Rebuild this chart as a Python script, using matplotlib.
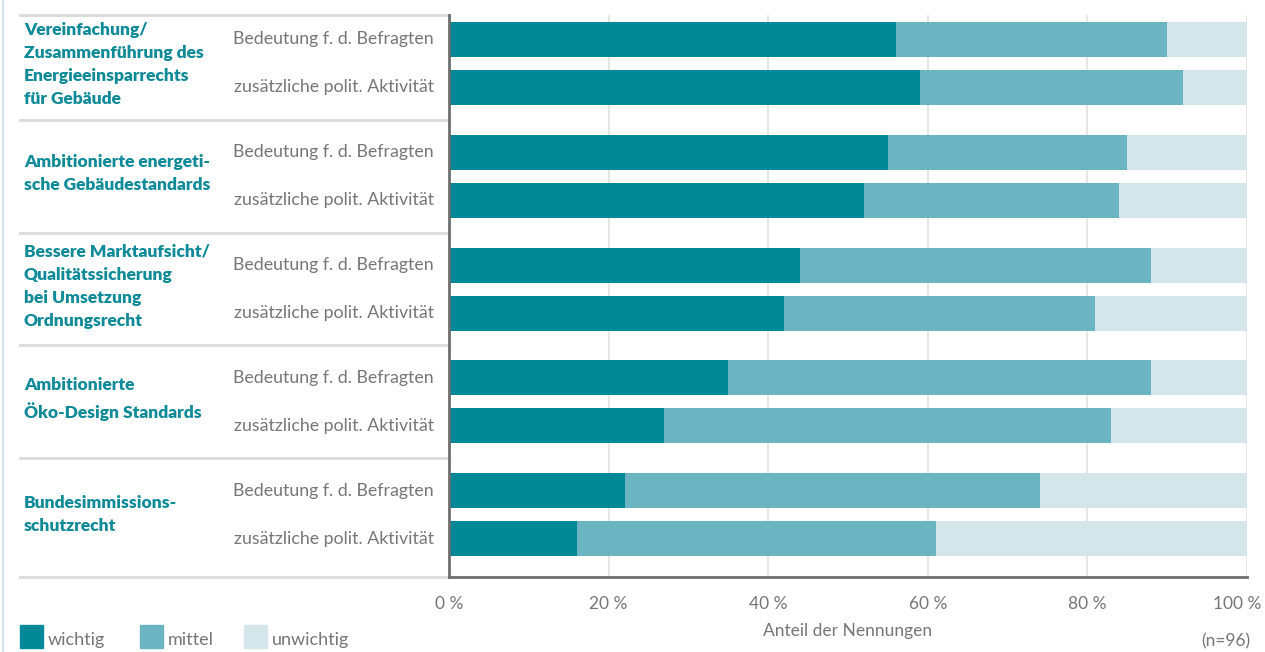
import matplotlib
matplotlib.use("Agg")
import matplotlib.pyplot as plt
import matplotlib.transforms as mtransforms
from matplotlib.lines import Line2D
from matplotlib.patches import Rectangle
import numpy as np

plt.rcParams['font.family'] = ['Lato', 'DejaVu Sans']

groups = [
    "Vereinfachung/\nZusammenführung des\nEnergieeinsparrechts\nfür Gebäude",
    "Ambitionierte energeti-\nsche Gebäudestandards",
    "Bessere Marktaufsicht/\nQualitätssicherung\nbei Umsetzung\nOrdnungsrecht",
    "Ambitionierte\nÖko-Design Standards",
    "Bundesimmissions-\nschutzrecht",
]
sub_labels = ["Bedeutung f. d. Befragten", "zusätzliche polit. Aktivität"]

wichtig = [56, 59, 55, 52, 44, 42, 35, 27, 22, 16]
mittel = [34, 33, 30, 32, 44, 39, 53, 56, 52, 45]
unwichtig = [100 - w - m for w, m in zip(wichtig, mittel)]

series_names = ["wichtig", "mittel", "unwichtig"]
colors = ["#008896", "#6bb4c1", "#d4e6ea"]
teal_text = "#0f8a98"
grey_text = "#767676"

fig = plt.figure(figsize=(12.65, 6.52), dpi=100)
W, H = 1265, 652
ax = fig.add_axes([449 / W, 1 - 577 / H, 798 / W, 562 / H])

period = 2.35
offset = 0.51
ypos = []
for g in range(len(groups)):
    ypos += [g * period + offset, g * period + offset + 1]
ypos = np.array(ypos)

left = np.zeros(len(wichtig))
for vals, c in zip([wichtig, mittel, unwichtig], colors):
    ax.barh(ypos, vals, left=left, height=0.73, color=c, zorder=2)
    left += np.array(vals)

ax.set_xlim(0, 100)
ax.set_ylim(11.71, 0)
ticks = [0, 20, 40, 60, 80, 100]
ax.set_xticks(ticks)
ax.set_xticklabels([f"{t} %" for t in ticks])
ax.tick_params(axis='x', length=0, pad=14, labelsize=12.5, labelcolor=grey_text)
# last tick label is pulled in so it stays inside the picture
last = ax.get_xticklabels()[-1]
last.set_transform(last.get_transform() +
                   mtransforms.ScaledTranslation(-10 / 100, 0, fig.dpi_scale_trans))
ax.set_yticks([])
ax.grid(axis='x', color="#e2e2e2", lw=1.2, zorder=0)
for s in ["top", "right"]:
    ax.spines[s].set_visible(False)
for s in ["left", "bottom"]:
    ax.spines[s].set_color("#6e6e6e")
    ax.spines[s].set_linewidth(2)
    ax.spines[s].set_zorder(3)

trans = mtransforms.blended_transform_factory(ax.transAxes, ax.transData)
x_sep = (20 - 449) / 798
seps = [0] + [g * period + offset + 1 + (period - 1) / 2 for g in range(len(groups) - 1)] + [11.71]
for y in seps:
    ax.add_line(Line2D([x_sep, 0], [y, y], transform=trans, color="#dcdcdc",
                       lw=2.2, clip_on=False, zorder=1))

x_sub = (434 - 449) / 798
for i, y in enumerate(ypos):
    ax.text(x_sub, y, sub_labels[i % 2], transform=trans, ha='right', va='center',
            fontsize=12.8, color=grey_text)

x_grp = (24 - 449) / 798
for g, name in enumerate(groups):
    yc = (seps[g] + seps[g + 1]) / 2 - 0.06
    ax.text(x_grp, yc, name, transform=trans, ha='left', va='center',
            fontsize=12.5, fontweight='heavy', color=teal_text, linespacing=1.55)

# axis title and sample size
fig.text(848 / W, 1 - 631 / H, "Anteil der Nennungen", ha='center', va='center',
         fontsize=12.5, color=grey_text)
fig.text(1250 / W, 1 - 641 / H, "(n=96)", ha='right', va='center',
         fontsize=12.5, color=grey_text)

# legend
leg_x = [20, 140, 244]
for lx, name, c in zip(leg_x, series_names, colors):
    fig.patches.append(Rectangle((lx / W, 1 - 648 / H), 23 / W, 23 / H,
                                 transform=fig.transFigure, color=c))
    fig.text((lx + 28) / W, 1 - 640 / H, name, ha='left', va='center',
             fontsize=13, color=grey_text)

# thin frame on the left edge
fig.add_artist(Line2D([3 / W, 3 / W], [0, 1], transform=fig.transFigure,
                      color="#d0e4ec", lw=1.5))

fig.savefig("out.png", dpi=100)
